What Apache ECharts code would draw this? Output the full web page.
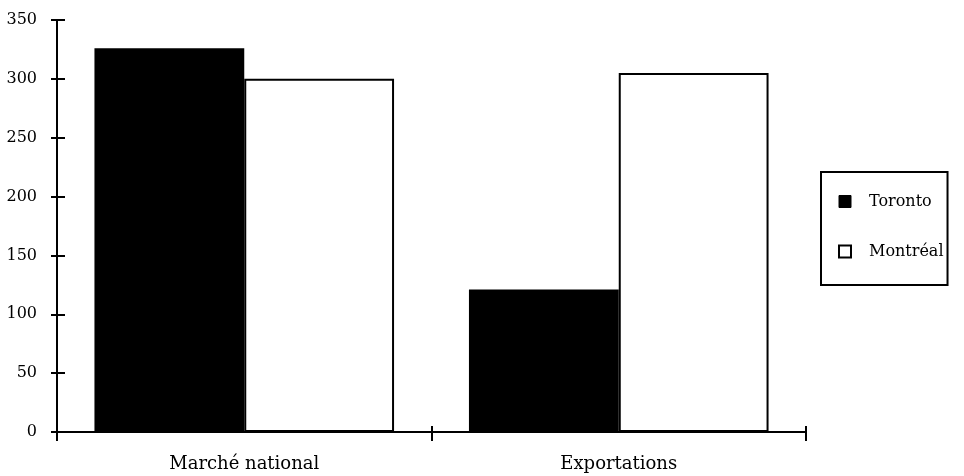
<!DOCTYPE html>
<html><head><meta charset="utf-8">
<script src="https://cdn.jsdelivr.net/npm/echarts@6/dist/echarts.min.js"></script>
<style>html,body{margin:0;padding:0;background:#fff}#c{width:964px;height:476px}</style>
</head><body><div id="c"></div>
<script>
const categories = ['Marché national', 'Exportations'];
const toronto = [326, 121];
const montreal = [300, 305];
const yTicks = [0, 50, 100, 150, 200, 250, 300, 350];

const chart = echarts.init(document.getElementById('c'), null, {renderer: 'canvas'});
const font = 'DejaVu Serif';
const axisLine = {show: true, lineStyle: {color: '#000', width: 2}};
chart.setOption({
  animation: false,
  backgroundColor: '#fff',
  textStyle: {fontFamily: font, color: '#000'},
  grid: {left: 57, right: 158, top: 20, bottom: 44, containLabel: false},
  legend: {
    orient: 'vertical', left: 821, top: 172,
    padding: [20, 4, 24, 17], itemGap: 31,
    borderColor: '#000', borderWidth: 2,
    itemWidth: 12, itemHeight: 12,
    textStyle: {fontFamily: font, fontSize: 16, color: '#000', padding: [0, 0, 0, 13], lineHeight: 19},
    data: [
      {name: 'Toronto', icon: 'rect', itemStyle: {color: '#000', borderColor: '#000', borderWidth: 1}},
      {name: 'Montréal', icon: 'rect', itemStyle: {color: '#fff', borderColor: '#000', borderWidth: 2}}
    ]
  },
  xAxis: [{
    type: 'category', data: categories,
    axisLine: axisLine,
    axisTick: {show: true, length: 9, lineStyle: {color: '#000', width: 2}},
    axisLabel: {fontFamily: font, fontSize: 18, color: '#000', margin: 23},
    splitLine: {show: false}
  }, {
    type: 'category', data: categories, position: 'bottom',
    axisLine: {show: false},
    axisTick: {show: true, inside: true, length: 6, lineStyle: {color: '#000', width: 2}},
    axisLabel: {show: false}
  }],
  yAxis: [{
    type: 'value', min: 0, max: 350, interval: 50,
    axisLine: axisLine,
    axisTick: {show: true, length: 6, lineStyle: {color: '#000', width: 2}},
    axisLabel: {fontFamily: font, fontSize: 16, color: '#000', margin: 20,
      formatter: v => yTicks.includes(v) ? String(v) : ''},
    splitLine: {show: false}
  }, {
    type: 'value', min: 0, max: 350, interval: 50, position: 'left',
    axisLine: {show: false},
    axisTick: {show: true, inside: true, length: 8, lineStyle: {color: '#000', width: 2}},
    axisLabel: {show: false}, splitLine: {show: false}
  }],
  series: [{
    name: 'Toronto', type: 'bar', data: toronto,
    barGap: '0%', barCategoryGap: '20%',
    itemStyle: {color: '#000', borderColor: '#000', borderWidth: 0}
  }, {
    name: 'Montréal', type: 'bar', data: montreal,
    itemStyle: {color: '#fff', borderColor: '#000', borderWidth: 2}
  }]
});
</script></body></html>
